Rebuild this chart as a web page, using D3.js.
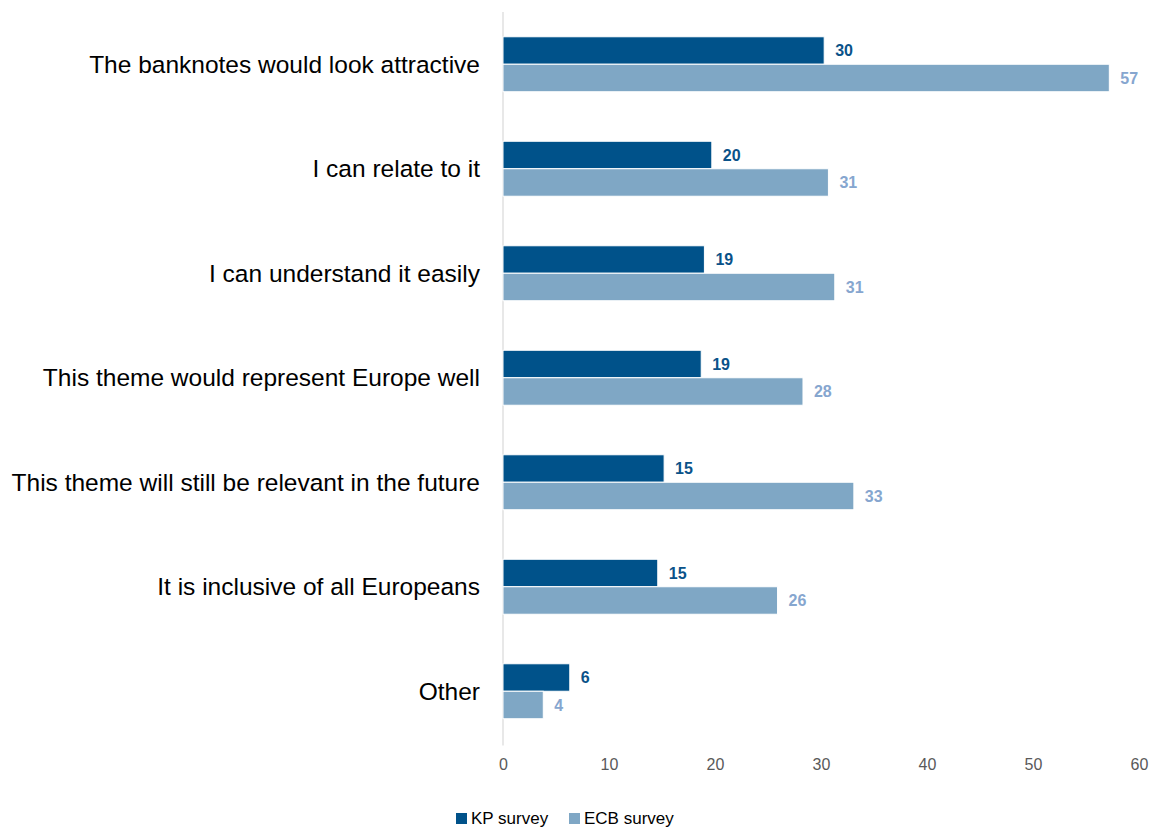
<!DOCTYPE html>
<html>
<head>
<meta charset="utf-8">
<script src="https://cdn.jsdelivr.net/npm/d3@7"></script>
<style>
  html, body { margin: 0; padding: 0; background: #fff; }
  svg { display: block; font-family: "Liberation Sans", Arial, sans-serif; }
</style>
</head>
<body>
<svg id="chart" width="1151" height="829"></svg>
<script>
const categories = [
  "The banknotes would look attractive",
  "I can relate to it",
  "I can understand it easily",
  "This theme would represent Europe well",
  "This theme will still be relevant in the future",
  "It is inclusive of all Europeans",
  "Other"
];
const seriesNames = ["KP survey", "ECB survey"];
const kpValues  = [30.3, 19.7, 19.0, 18.7, 15.2, 14.6, 6.3];
const ecbValues = [57.2, 30.7, 31.3, 28.3, 33.1, 25.9, 3.8];
const xTicks = [0, 10, 20, 30, 40, 50, 60];

const colors = { bar: ["#00528a", "#7fa7c5"], label: ["#0a5289", "#86a6cf"] };

const svg = d3.select("#chart");
const plotLeft = 503, plotRight = 1139, plotTop = 12, plotBottom = 743.5;

const x = d3.scaleLinear().domain([0, 60]).range([plotLeft, plotRight]);
const y = d3.scaleBand().domain(categories).range([plotTop, plotBottom])
  .paddingInner(0.474).paddingOuter(0.237);
const ySub = d3.scaleBand().domain(seriesNames).range([0, y.bandwidth()]);

const rows = categories.map((c, i) => ({ cat: c, vals: [kpValues[i], ecbValues[i]] }));

// axis line (vertical at 0)
svg.append("line")
  .attr("x1", x(0)).attr("x2", x(0))
  .attr("y1", plotTop).attr("y2", plotBottom + 2)
  .attr("stroke", "#d9d9d9").attr("stroke-width", 1.2);

// x axis tick labels
const xAxis = d3.axisBottom(x).tickValues(xTicks).tickSize(0).tickPadding(0);
const gx = svg.append("g").attr("transform", `translate(0, ${759})`).call(xAxis);
gx.select(".domain").remove();
gx.selectAll("text")
  .attr("dy", "0.71em")
  .attr("font-size", 16)
  .attr("font-family", "Liberation Sans, Arial, sans-serif")
  .attr("fill", "#595959");

// category labels
const yAxis = d3.axisLeft(y).tickSize(0).tickPadding(0);
const gy = svg.append("g").attr("transform", `translate(480, 0)`).call(yAxis);
gy.select(".domain").remove();
gy.selectAll("text")
  .attr("font-size", 24.5)
  .attr("font-family", "Liberation Sans, Arial, sans-serif")
  .attr("fill", "#000")
  .attr("dy", "0.35em");

// bars
const groups = svg.append("g").selectAll("g").data(rows).join("g")
  .attr("transform", d => `translate(0, ${y(d.cat)})`);

groups.selectAll("rect").data(d => d.vals.map((v, j) => ({ v, s: seriesNames[j], j })))
  .join("rect")
  .attr("x", x(0))
  .attr("y", d => ySub(d.s))
  .attr("width", d => x(d.v) - x(0))
  .attr("height", ySub.bandwidth())
  .attr("fill", d => colors.bar[d.j])
  .attr("stroke", "#fff")
  .attr("stroke-width", 1);

groups.selectAll("text").data(d => d.vals.map((v, j) => ({ v, s: seriesNames[j], j })))
  .join("text")
  .attr("x", d => x(d.v) + 11)
  .attr("y", d => ySub(d.s) + ySub.bandwidth() / 2)
  .attr("dy", "0.35em")
  .attr("font-size", 16)
  .attr("font-weight", "bold")
  .attr("fill", d => colors.label[d.j])
  .text(d => d3.format(".0f")(d.v));

// legend
const legendItems = [
  { name: seriesNames[0], sx: 456, tx: 471 },
  { name: seriesNames[1], sx: 569, tx: 584 }
];
const lg = svg.append("g");
legendItems.forEach((it, j) => {
  lg.append("rect").attr("x", it.sx).attr("y", 813).attr("width", 11).attr("height", 11)
    .attr("fill", colors.bar[j]);
  lg.append("text").attr("x", it.tx).attr("y", 824)
    .attr("font-size", 17)
    .attr("fill", "#000").text(it.name);
});
</script>
</body>
</html>
